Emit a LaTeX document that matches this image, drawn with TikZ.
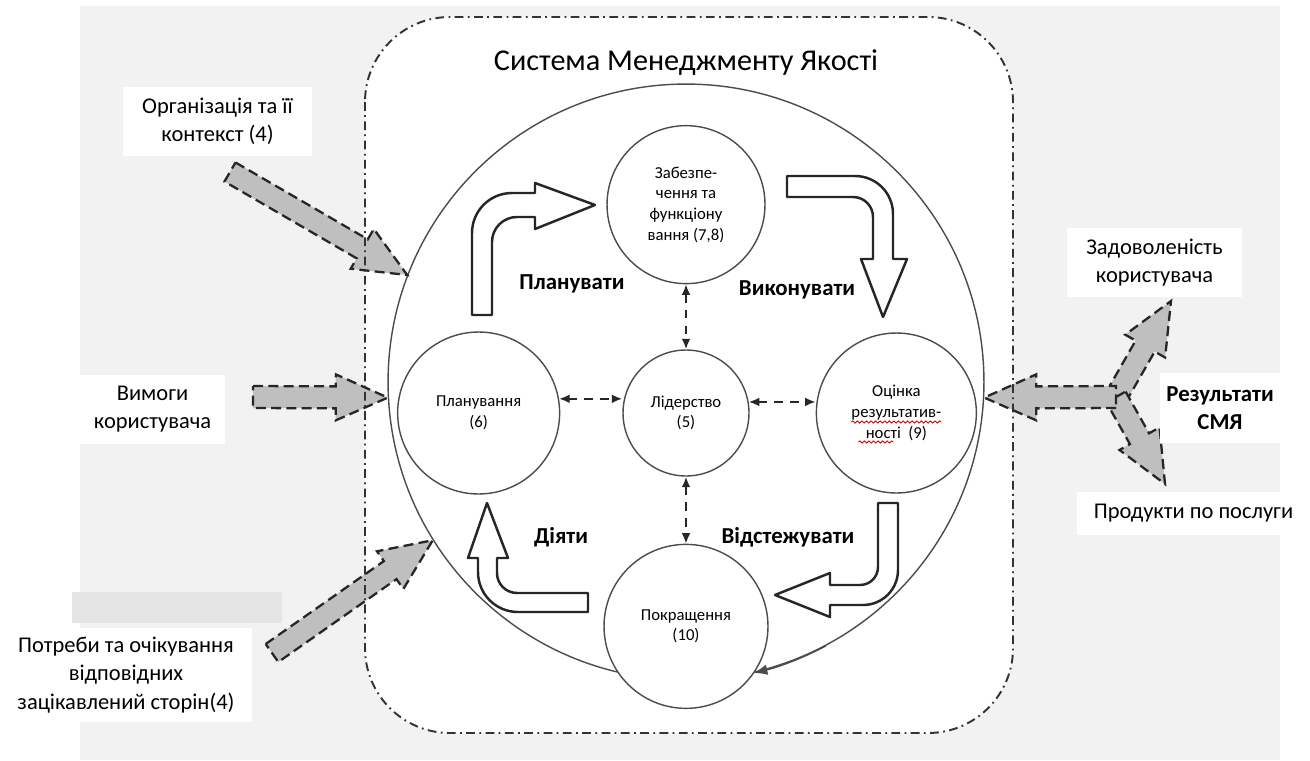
\documentclass[tikz,border=0pt]{standalone}
\usepackage{fontspec}
\setmainfont{Carlito}
\usetikzlibrary{positioning,calc,arrows.meta,decorations.pathmorphing}

% grey block arrow from #1 to #2
\newcommand\grayarrow[2]{%
  \draw[inarrow] let \p1=(#1), \p2=(#2), \n1={atan2(\y2-\y1,\x2-\x1)} in
    ($(\p1)+(\n1+90:0.22cm)$)
    -- ($(\p2)+(\n1+180:1.04cm)+(\n1+90:0.22cm)$)
    -- ($(\p2)+(\n1+180:1.04cm)+(\n1+90:0.46cm)$)
    -- (\p2)
    -- ($(\p2)+(\n1+180:1.04cm)+(\n1-90:0.46cm)$)
    -- ($(\p2)+(\n1+180:1.04cm)+(\n1-90:0.22cm)$)
    -- ($(\p1)+(\n1-90:0.22cm)$) -- cycle;}

\begin{document}
\begin{tikzpicture}[x=0.02cm, y=-0.02cm,
	stage/.style={circle, draw=black!70, line width=0.8pt, fill=white,
		align=center, inner sep=0pt, font=\fontsize{9.5}{11.8}\selectfont},
	lbl/.style={fill=white, align=center, inner sep=0pt,
		font=\fontsize{12.8}{16}\selectfont},
	phase/.style={font=\fontsize{13}{15}\selectfont\bfseries},
	inarrow/.style={draw=black!85, fill=black!25, line width=1.3pt,
		dash pattern=on 5.7pt off 3pt},
	cyclearrow/.style={draw=black!85, fill=white, line width=1.4pt, line join=round},
	link/.style={draw=black!85, line width=1.1pt, dash pattern=on 5pt off 4pt,
		{Latex[length=6pt,width=5pt]}-{Latex[length=6pt,width=5pt]}},
	typo/.style={red!80!black, line width=0.5pt, decorate,
		decoration={snake, amplitude=0.6pt, segment length=2.6pt}}
]
	\useasboundingbox (0,0) rectangle (1310,760);
	%% background
	\fill[black!5] (80,6) rectangle (1280,760);
	\fill[white, rounded corners=1.7cm] (365,17) rectangle (1013,733);
	\node[font=\fontsize{17.2}{20}\selectfont] (title) at (686,63) {Система Менеджменту Якості};

	%% circles
	\node[circle, draw=black!70, line width=0.8pt, minimum size=11.92cm, inner sep=0pt] (sys) at (686,382) {};
	\node[stage, minimum size=2.52cm] (lid) at (686,413) {Лідерство\\(5)};
	\node[stage, minimum size=3.16cm, above=1.3cm of lid] (zab) {Забезпе-\\чення та\\функціону\\вання (7,8)};
	\node[stage, minimum size=3.24cm, left=1.24cm of lid] (plan) {Планування\\(6)};
	\node[stage, minimum size=3.2cm, right=1.32cm of lid] (oce) {Оцінка\\результатив-\\ності~~(9)};
	\node[stage, minimum size=3.28cm, below=1.34cm of lid] (imp) {Покращення\\(10)};
	\draw[black!70, line width=0.8pt, -{Latex[length=8pt,width=6pt]}] (sys.-62) arc[start angle=-62, end angle=-77, radius=5.96cm];
	% spell-check marks
	\draw[typo] ($(oce)+(-45,9)$) -- ($(oce)+(45,9)$);
	\draw[typo] ($(oce)+(-38,29)$) -- ($(oce)+(-3,29)$);

	% dashed links
	\draw[link] (zab) -- (lid);
	\draw[link] (lid) -- (imp);
	\draw[link] (plan.10) -- (plan.10 -| lid.west);
	\draw[link] (lid.10) -- (lid.10 -| oce.west);

	%% PDCA arrows
	\draw[cyclearrow] (472,315) -- (472,233) to[out=90,in=180] (512,193) -- (535,193) -- (535,183)
		-- (595,205) -- (535,229) -- (535,217) -- (517,217) to[out=180,in=90] (492,242) -- (492,315) -- cycle;
	\draw[cyclearrow] (787,176) -- (855,176) to[out=0,in=90] (893,214) -- (893,259) -- (907,259)
		-- (883,317) -- (861,259) -- (873,259) -- (873,217) to[out=90,in=0] (853,197) -- (787,197) -- cycle;
	\draw[cyclearrow] (878,503) -- (898,503) -- (898,570) to[out=-90,in=0] (863,605) -- (830,605) -- (830,617)
		-- (775,595) -- (830,573) -- (830,585) -- (860,585) to[out=0,in=-90] (878,567) -- cycle;
	\draw[cyclearrow] (588,593) -- (517,593) to[out=180,in=-90] (497,573) -- (497,558) -- (508,558)
		-- (487,503) -- (468,558) -- (478,558) -- (478,572) to[out=-90,in=180] (518,612) -- (588,612) -- cycle;

	\node[phase] (planl) at (572,284) {Планувати};
	\node[phase] (dol) at (797,290) {Виконувати};
	\node[phase] (actl) at (561,537) {Діяти};
	\node[phase] (chkl) at (788,537) {Відстежувати};

	%% inputs and outputs
	\coordinate (orgtail) at (230,172);
	\coordinate (wymtail) at (253,397);
	\coordinate (pottail) at (272,653);
	\coordinate (hub) at (1116,397);
	\coordinate (zadtip) at (1171,301);
	\coordinate (prodtip) at (1165,484);
	\grayarrow{orgtail}{sys.159}
	\grayarrow{wymtail}{sys.183}
	\grayarrow{pottail}{sys.212}
	\grayarrow{hub}{zadtip}
	\grayarrow{hub}{prodtip}
	\grayarrow{hub}{sys.-3}

	\draw[black!80, line width=1.1pt, dash pattern=on 5pt off 2.5pt on 1pt off 2.5pt, rounded corners=1.7cm]
		(365,17) rectangle (1013,733);

	\node[lbl, minimum width=3.78cm, minimum height=1.38cm] (org) at (217.5,121.5) {Організація та її\\контекст (4)};
	\node[lbl, minimum width=2.9cm, minimum height=1.38cm] (wym) at (152.5,409.5) {Вимоги\\користувача};
	\fill[black!10] (72,592) rectangle (282,623);
	\node[lbl, minimum width=5.04cm, minimum height=1.88cm] (pot) at (126,675) {Потреби та очікування\\відповідних\\зацікавлений сторін(4)};
	\node[lbl, minimum width=3.5cm, minimum height=1.38cm] (zad) at (1154.5,262.5) {Задоволеність\\користувача};
	\node[lbl, minimum width=2.4cm, minimum height=1.4cm, font=\fontsize{13}{16}\selectfont\bfseries] (res) at (1220,408) {Результати\\СМЯ};
	\node[lbl, minimum width=4.66cm, minimum height=0.86cm] (prod) at (1193.5,513.5) {Продукти по послуги};
\end{tikzpicture}
\end{document}
